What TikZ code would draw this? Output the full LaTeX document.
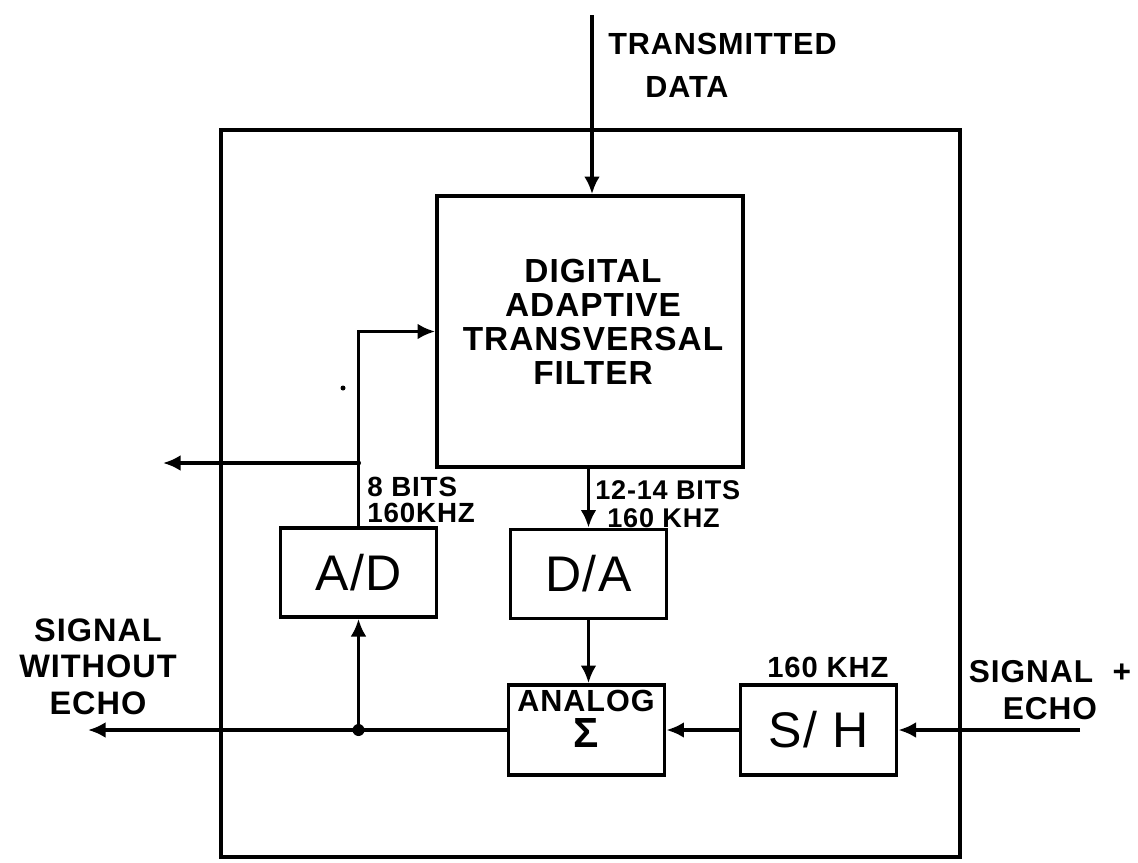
\documentclass[tikz,border=0pt]{standalone}
\usepackage{fontspec}
\setmainfont{Liberation Sans}[LetterSpace=3]
\usetikzlibrary{arrows.meta}

\begin{document}
\begin{tikzpicture}[
  x=0.02cm, y=-0.02cm,
  wire/.style={line width=1.9pt},
  flow/.style={wire, -{Latex[length=10pt,width=9pt]}},
  frame/.style={draw, line width=2.2pt, inner sep=0pt},
  block/.style={frame, minimum width=3.12cm, minimum height=1.78cm, font=\fontsize{28.5}{30}\selectfont},
  note/.style={inner sep=0pt, align=left, anchor=north west},
  joint/.style={circle, fill, inner sep=0pt, minimum size=0.24cm}
]
  \useasboundingbox (0,0) rectangle (1138,862);

  % boxes
  \node[frame, minimum width=14.78cm, minimum height=14.54cm] (board) at (590.5,493.5) {};
  \node[frame, minimum width=6.12cm, minimum height=5.42cm] (filter) at (590,331.5) {};
  \node[align=center, inner sep=0pt, font=\fontsize{19}{19.3}\selectfont\bfseries] (filtertext) at (593,321.5) {DIGITAL\\ADAPTIVE\\TRANSVERSAL\\FILTER};
  \node[block] (ad) at (358.5,572.5) {A/D};
  \node[block] (da) at (588.5,574) {D/A};
  \node[block, minimum height=1.8cm] (sum) at (586.5,730) {};
  \node[align=center, inner sep=0pt, font=\fontsize{17.4}{20.4}\selectfont\bfseries] (sumtext) at (586,719) {ANALOG\\{\fontsize{24}{20.4}\selectfont Σ}};
  \node[block, minimum height=1.8cm] (sh) at (818.5,730) {S/ H};

  % free ends and taps
  \coordinate (txin) at (592,15);
  \coordinate (tap) at (358.5,463);
  \coordinate (tapout) at (163,463);
  \coordinate (split) at (358.5,730);
  \coordinate (sigout) at (88,730);
  \coordinate (sigin) at (1080,730);

  % signal paths
  \draw[flow] (txin) -- (txin |- filter.north);
  \draw[flow] (ad.north) |- (filter.west);
  \draw[flow] (tap) -- (tapout);
  \draw[flow] (da.north |- filter.south) -- (da.north);
  \draw[flow] (da.south) -- (da.south |- sum.north);
  \draw[flow] (sigin) -- (sh.east);
  \draw[flow] (sh.west) -- (sum.east);
  \draw[flow] (sum.west) -- (sigout);
  \draw[flow] (split) -- (ad.south);
  \node[joint] (splitdot) at (split) {};
  \node[joint, minimum size=0.1cm] (tapdot) at (tap) {};
  \node[joint, minimum size=0.1cm] (speck) at (343,388) {};

  % labels
  \node[note, font=\fontsize{17.4}{24.4}\selectfont\bfseries] (txlabel) at (608,33) {TRANSMITTED\\\hspace*{0.74cm}DATA};
  \node[note, font=\fontsize{15.8}{14.7}\selectfont\bfseries] (adrate) at (367,477) {8 BITS\\160KHZ};
  \node[note, font=\fontsize{15.4}{15.9}\selectfont\bfseries] (darate) at (595,480) {12-14 BITS\\\hspace*{0.24cm}160 KHZ};
  \node[note, font=\fontsize{16.6}{18}\selectfont\bfseries] (shrate) at (767,657) {160 KHZ};
  \node[inner sep=0pt, anchor=north, align=center, font=\fontsize{18.5}{21}\selectfont\bfseries] (outlabel) at (98,618) {SIGNAL\\WITHOUT\\ECHO};
  \node[inner sep=0pt, anchor=north, align=center, font=\fontsize{18}{21}\selectfont\bfseries] (inlabel) at (1050,660) {SIGNAL \ +\\ECHO};
\end{tikzpicture}
\end{document}
